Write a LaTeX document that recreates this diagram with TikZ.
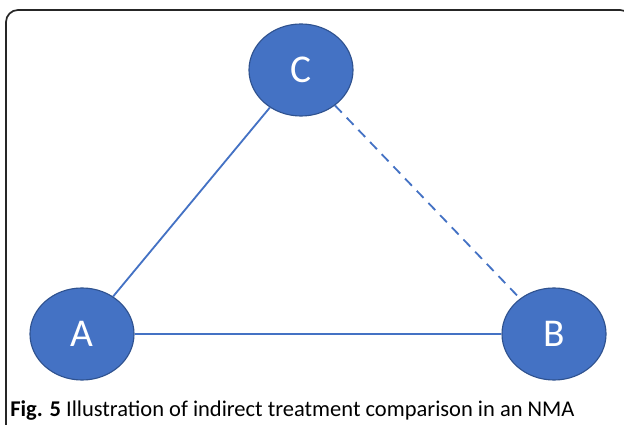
\documentclass[tikz,border=0pt]{standalone}
\usepackage{fontspec}
\setmainfont{Carlito}
\usetikzlibrary{shapes.geometric}
\definecolor{nodeblue}{HTML}{4472C4}
\definecolor{nodeedge}{HTML}{2F528F}
\begin{document}
\begin{tikzpicture}[x=0.025cm,y=-0.025cm,
           node_style/.style={ellipse,draw=nodeedge,line width=0.8pt,fill=nodeblue,text=white,
             minimum width=2.6cm,minimum height=2.3cm,inner sep=0pt,font=\fontsize{28}{30}\selectfont},
           edge_style/.style={draw=nodeblue,line width=1.3pt},
           frame_style/.style={draw=black!85,line width=1.2pt,rounded corners=0.3cm}]
            \clip (0,0) rectangle (624,425);
            \useasboundingbox (0,0) rectangle (624,425);
            \draw[frame_style] (6,10) rectangle (632,440);
            \node[node_style] (vc) at (301, 70)  {C};
            \node[node_style] (va) at (82, 334)  {A};
            \node[node_style] (vb) at (554, 334)  {B};
            \draw[edge_style]  (va) edge node{} (vc);
            \draw[edge_style]  (va) edge node{} (vb);
            \draw[edge_style,dashed,dash pattern=on 7pt off 5pt]  (vc) edge node{} (vb);
            \node[anchor=base west,inner sep=0pt,font=\fontsize{16}{18}\selectfont] (caption) at (10, 416)
              {\textbf{Fig. 5} Illustration of indirect treatment comparison in an NMA};
        \end{tikzpicture}
\end{document}
